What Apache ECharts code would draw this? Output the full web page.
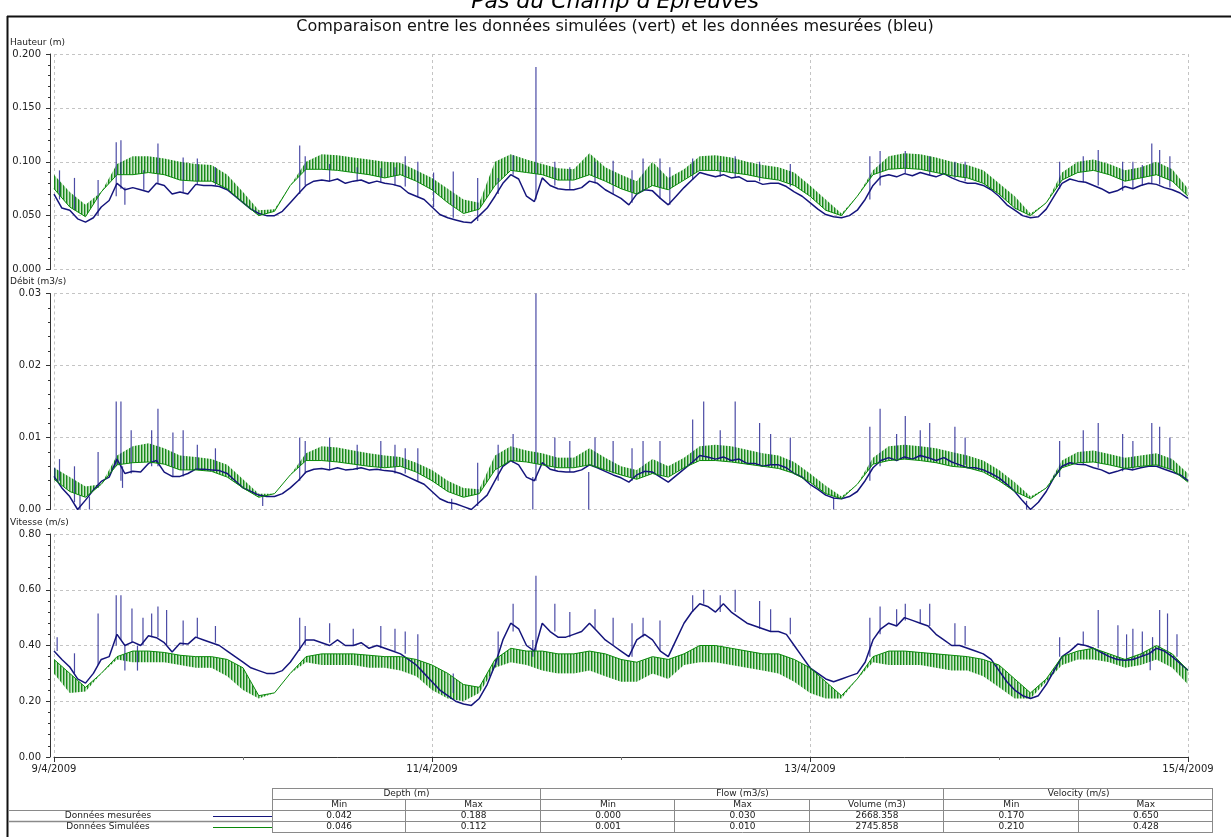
<!DOCTYPE html>
<html>
<head>
<meta charset="utf-8">
<script src="https://cdn.jsdelivr.net/npm/echarts/dist/echarts.min.js"></script>
<style>
  html, body { margin: 0; padding: 0; background: #fff; }
  #chart { width: 1231px; height: 837px; }
</style>
</head>
<body>
<div id="chart"></div>
<script>
// ---------------------------------------------------------------
// Data: hourly measured values from 9/4/2009 00:00 (index = hour),
// simulated envelope every 2 hours, and isolated measured peaks
// given as [hour, from, to].
// ---------------------------------------------------------------
const xTickLabels = ['9/4/2009', '11/4/2009', '13/4/2009', '15/4/2009'];
const SIM_STEP = 2; // hours between simulated samples

// ---- Hauteur (m) ----
const depthMeasured = [
  0.070,0.057,0.055,0.047,0.044,0.048,0.058,0.064,0.080,0.074,0.076,0.074,0.072,0.080,0.078,0.070,0.072,0.070,0.079,0.078,0.078,0.077,0.074,0.068,0.062,
  0.056,0.052,0.050,0.050,0.054,0.062,0.070,0.078,0.082,0.083,0.082,0.084,0.080,0.082,0.083,0.080,0.082,0.080,0.079,0.077,0.071,0.068,0.065,0.058,
  0.051,0.048,0.046,0.044,0.0435,0.050,0.057,0.068,0.080,0.088,0.084,0.068,0.063,0.085,0.078,0.075,0.074,0.074,0.076,0.082,0.080,0.074,0.070,0.066,
  0.060,0.070,0.074,0.073,0.066,0.060,0.068,0.076,0.083,0.090,0.088,0.086,0.088,0.085,0.086,0.082,0.082,0.079,0.080,0.080,0.077,0.072,0.068,0.062,
  0.056,0.051,0.049,0.048,0.050,0.055,0.065,0.078,0.086,0.088,0.086,0.089,0.087,0.090,0.088,0.086,0.089,0.085,0.082,0.080,0.080,0.078,0.074,0.068,
  0.060,0.055,0.050,0.048,0.049,0.056,0.068,0.080,0.084,0.082,0.081,0.078,0.075,0.071,0.073,0.077,0.075,0.078,0.080,0.079,0.076,0.074,0.071,0.066
];
const depthPeaks = [
  [0.7,0.065,0.092],[2.6,0.055,0.085],[5.6,0.050,0.083],[7.9,0.068,0.118],[8.5,0.075,0.120],[9.0,0.060,0.076],
  [11.4,0.074,0.092],[13.2,0.080,0.117],[16.4,0.072,0.104],[18.2,0.079,0.103],[20.5,0.078,0.095],
  [31.2,0.070,0.115],[31.9,0.078,0.105],[35.0,0.082,0.098],[38.5,0.082,0.095],[41.5,0.081,0.094],[43.3,0.078,0.095],
  [44.6,0.077,0.105],[46.2,0.068,0.100],[48.2,0.058,0.090],[50.7,0.048,0.091],[53.8,0.045,0.085],[56.4,0.070,0.085],
  [58.3,0.088,0.106],[61.2,0.065,0.188],[63.6,0.078,0.100],[65.5,0.074,0.095],[68.7,0.080,0.100],[71.0,0.070,0.101],
  [73.4,0.062,0.092],[74.8,0.074,0.103],[76.95,0.066,0.103],[78.2,0.060,0.095],[81.1,0.083,0.103],[84.6,0.086,0.100],
  [86.5,0.085,0.105],[89.6,0.082,0.100],[93.5,0.077,0.098],
  [103.6,0.065,0.105],[104.9,0.078,0.110],[108.1,0.089,0.110],[111.2,0.088,0.105],[114.4,0.085,0.100],[115.7,0.082,0.100],
  [127.7,0.075,0.100],[130.7,0.081,0.105],[132.6,0.078,0.111],[135.7,0.073,0.100],[137.0,0.075,0.100],[138.2,0.078,0.097],
  [139.4,0.080,0.117],[140.4,0.079,0.111],[141.7,0.076,0.105]
];
const depthSimLow = [
  0.075,0.058,0.049,0.072,0.088,0.088,0.090,0.088,0.083,0.082,0.082,0.075,0.062,
  0.050,0.054,0.078,0.093,0.093,0.092,0.090,0.088,0.085,0.088,0.082,0.074,
  0.062,0.052,0.056,0.078,0.092,0.090,0.088,0.083,0.083,0.088,0.082,0.075,
  0.070,0.078,0.074,0.083,0.092,0.092,0.090,0.088,0.085,0.083,0.078,0.068,
  0.055,0.050,0.068,0.088,0.093,0.094,0.093,0.090,0.087,0.085,0.080,0.070,
  0.057,0.050,0.062,0.083,0.090,0.092,0.088,0.082,0.085,0.088,0.082,0.068
];
const depthSimHigh = [
  0.088,0.072,0.060,0.072,0.098,0.105,0.105,0.103,0.100,0.098,0.097,0.088,0.072,
  0.055,0.056,0.078,0.100,0.107,0.106,0.104,0.102,0.100,0.099,0.092,0.085,
  0.075,0.065,0.062,0.100,0.107,0.102,0.098,0.094,0.093,0.108,0.095,0.088,
  0.082,0.100,0.085,0.093,0.105,0.106,0.104,0.100,0.097,0.095,0.090,0.078,
  0.065,0.052,0.068,0.092,0.105,0.108,0.107,0.104,0.100,0.097,0.092,0.080,
  0.068,0.052,0.062,0.090,0.100,0.102,0.098,0.092,0.095,0.100,0.093,0.075
];

// ---- Débit (m3/s) ----
const flowMeasured = [
  0.0046,0.0030,0.0018,0.0000,0.0013,0.0027,0.0039,0.0045,0.0070,0.0050,0.0053,0.0052,0.0064,0.0068,0.0052,0.0046,0.0046,0.0050,0.0056,0.0056,0.0055,0.0054,0.0050,0.0040,0.0030,
  0.0025,0.0020,0.0018,0.0018,0.0022,0.0030,0.0040,0.0052,0.0056,0.0057,0.0055,0.0058,0.0055,0.0056,0.0058,0.0055,0.0056,0.0054,0.0053,0.0050,0.0045,0.0040,0.0035,0.0025,
  0.0015,0.0010,0.0008,0.0004,0.0000,0.0010,0.0020,0.0040,0.0060,0.0068,0.0062,0.0045,0.0040,0.0065,0.0056,0.0053,0.0052,0.0052,0.0055,0.0062,0.0058,0.0053,0.0048,0.0044,
  0.0038,0.0048,0.0053,0.0052,0.0045,0.0038,0.0047,0.0056,0.0065,0.0075,0.0073,0.0070,0.0073,0.0068,0.0070,0.0064,0.0064,0.0060,0.0062,0.0062,0.0058,0.0050,0.0045,0.0035,
  0.0028,0.0020,0.0016,0.0015,0.0018,0.0025,0.0040,0.0058,0.0068,0.0072,0.0068,0.0073,0.0070,0.0075,0.0072,0.0068,0.0072,0.0066,0.0062,0.0058,0.0058,0.0055,0.0050,0.0044,
  0.0035,0.0025,0.0012,0.0000,0.0010,0.0025,0.0045,0.0060,0.0065,0.0063,0.0062,0.0058,0.0055,0.0050,0.0053,0.0057,0.0055,0.0058,0.0060,0.0060,0.0056,0.0052,0.0048,0.0040
];
const flowPeaks = [
  [0.1,0.0045,0.0058],[0.7,0.0040,0.0070],[2.6,0.0010,0.0060],[3.3,0.0000,0.0020],[4.5,0.0000,0.0018],[5.6,0.0030,0.0080],
  [7.9,0.0060,0.0150],[8.5,0.0040,0.0150],[8.7,0.0030,0.0060],[9.8,0.0050,0.0110],[12.4,0.0060,0.0110],[13.2,0.0060,0.0140],
  [15.1,0.0046,0.0107],[16.4,0.0046,0.0110],[18.2,0.0055,0.0090],[20.5,0.0055,0.0085],
  [26.5,0.0005,0.0020],[31.2,0.0040,0.0100],[31.9,0.0050,0.0095],[35.0,0.0055,0.0100],[38.5,0.0055,0.0090],[41.5,0.0055,0.0095],[43.3,0.0050,0.0090],
  [44.6,0.0050,0.0085],[46.2,0.0040,0.0085],[50.5,0.0000,0.0015],[53.8,0.0005,0.0065],[56.4,0.0040,0.0090],[58.3,0.0065,0.0105],
  [60.8,0.0000,0.0045],[61.2,0.0040,0.0300],[63.6,0.0055,0.0100],[65.5,0.0052,0.0095],[67.9,0.0000,0.0052],[68.7,0.0060,0.0100],[71.0,0.0050,0.0095],
  [73.4,0.0040,0.0085],[74.8,0.0050,0.0095],[76.95,0.0045,0.0095],[81.1,0.0065,0.0125],[82.5,0.0075,0.0150],[84.6,0.0070,0.0110],
  [86.5,0.0068,0.0150],[89.6,0.0062,0.0120],[91.0,0.0062,0.0105],[93.5,0.0058,0.0100],
  [99.0,0.0000,0.0016],[103.6,0.0040,0.0115],[104.9,0.0060,0.0140],[107.0,0.0070,0.0105],[108.1,0.0070,0.0130],[110.0,0.0072,0.0110],
  [111.2,0.0072,0.0120],[114.4,0.0066,0.0115],[115.7,0.0062,0.0100],
  [123.5,0.0000,0.0012],[127.7,0.0045,0.0095],[130.7,0.0062,0.0110],[132.6,0.0058,0.0120],[135.7,0.0053,0.0105],[137.0,0.0055,0.0095],
  [139.4,0.0060,0.0120],[140.4,0.0060,0.0115],[141.7,0.0056,0.0100]
];
const flowSimLow = [
  0.0042,0.0025,0.0017,0.0035,0.0062,0.0065,0.0066,0.0063,0.0055,0.0055,0.0053,0.0045,0.0030,
  0.0017,0.0022,0.0048,0.0068,0.0068,0.0066,0.0063,0.0060,0.0058,0.0060,0.0052,0.0040,
  0.0025,0.0017,0.0022,0.0055,0.0068,0.0066,0.0062,0.0058,0.0058,0.0062,0.0055,0.0048,
  0.0042,0.0050,0.0045,0.0058,0.0068,0.0068,0.0066,0.0063,0.0060,0.0057,0.0050,0.0038,
  0.0022,0.0015,0.0035,0.0063,0.0068,0.0070,0.0068,0.0065,0.0060,0.0058,0.0052,0.0040,
  0.0025,0.0015,0.0030,0.0058,0.0065,0.0066,0.0062,0.0057,0.0060,0.0062,0.0055,0.0038
];
const flowSimHigh = [
  0.0058,0.0045,0.0032,0.0035,0.0075,0.0088,0.0092,0.0085,0.0075,0.0073,0.0070,0.0062,0.0042,
  0.0022,0.0022,0.0048,0.0078,0.0088,0.0086,0.0082,0.0078,0.0075,0.0073,0.0065,0.0055,
  0.0040,0.0030,0.0028,0.0075,0.0088,0.0082,0.0078,0.0072,0.0072,0.0085,0.0072,0.0060,
  0.0055,0.0070,0.0060,0.0072,0.0088,0.0090,0.0088,0.0083,0.0078,0.0075,0.0066,0.0050,
  0.0033,0.0018,0.0035,0.0072,0.0088,0.0090,0.0088,0.0085,0.0080,0.0075,0.0068,0.0055,
  0.0038,0.0018,0.0030,0.0068,0.0080,0.0082,0.0077,0.0072,0.0075,0.0078,0.0070,0.0050
];

// ---- Vitesse (m/s) ----
const speedMeasured = [
  0.380,0.350,0.323,0.280,0.265,0.300,0.350,0.360,0.440,0.400,0.413,0.400,0.435,0.428,0.410,0.377,0.408,0.405,0.430,0.420,0.410,0.400,0.380,0.360,0.340,
  0.320,0.310,0.300,0.300,0.310,0.340,0.380,0.420,0.420,0.410,0.400,0.420,0.400,0.400,0.410,0.390,0.400,0.390,0.380,0.370,0.350,0.330,0.300,0.270,
  0.240,0.220,0.200,0.190,0.185,0.210,0.260,0.330,0.420,0.480,0.460,0.400,0.380,0.480,0.450,0.430,0.430,0.440,0.450,0.480,0.450,0.420,0.400,0.380,
  0.360,0.420,0.440,0.420,0.380,0.360,0.420,0.480,0.520,0.550,0.540,0.520,0.550,0.520,0.500,0.480,0.470,0.460,0.450,0.450,0.440,0.400,0.360,0.320,
  0.300,0.280,0.270,0.280,0.290,0.300,0.340,0.420,0.460,0.480,0.470,0.500,0.490,0.480,0.470,0.440,0.420,0.400,0.400,0.390,0.380,0.370,0.350,0.310,
  0.270,0.240,0.220,0.210,0.220,0.260,0.310,0.360,0.380,0.405,0.400,0.390,0.375,0.360,0.350,0.347,0.350,0.360,0.370,0.390,0.380,0.360,0.336,0.311
];
const speedPeaks = [
  [0.4,0.380,0.430],[2.6,0.300,0.372],[5.6,0.330,0.515],[7.9,0.400,0.580],[8.5,0.420,0.580],[9.0,0.310,0.400],[9.9,0.410,0.533],
  [10.6,0.310,0.400],[11.3,0.400,0.500],[12.4,0.430,0.515],[13.2,0.430,0.540],[14.3,0.400,0.527],[16.4,0.400,0.490],[18.2,0.430,0.500],[20.5,0.410,0.470],
  [31.2,0.380,0.500],[31.9,0.400,0.470],[35.0,0.410,0.480],[38.0,0.400,0.460],[41.5,0.390,0.470],[43.3,0.380,0.460],
  [44.6,0.370,0.450],[46.2,0.340,0.440],[50.7,0.230,0.300],[56.4,0.330,0.450],[58.3,0.450,0.550],[60.8,0.360,0.420],[61.2,0.380,0.650],
  [63.6,0.450,0.550],[65.5,0.430,0.520],[68.7,0.460,0.530],[71.0,0.400,0.500],
  [73.4,0.360,0.480],[74.8,0.430,0.500],[76.95,0.380,0.490],[81.1,0.520,0.580],[82.5,0.550,0.600],[84.6,0.520,0.580],[86.5,0.520,0.600],
  [89.6,0.460,0.560],[91.0,0.450,0.530],[93.5,0.440,0.500],
  [103.6,0.360,0.500],[104.9,0.440,0.540],[107.0,0.470,0.530],[108.1,0.490,0.550],[110.0,0.480,0.530],[111.2,0.470,0.550],[114.4,0.400,0.480],[115.7,0.400,0.470],
  [127.7,0.360,0.430],[130.7,0.400,0.450],[132.6,0.390,0.527],[135.1,0.350,0.473],[136.2,0.347,0.440],[137.0,0.350,0.460],[138.2,0.360,0.450],
  [139.2,0.311,0.372],[139.5,0.370,0.430],[140.4,0.390,0.527],[141.4,0.380,0.515],[142.6,0.360,0.440]
];
const speedSimLow = [
  0.300,0.230,0.235,0.300,0.350,0.340,0.340,0.340,0.330,0.320,0.320,0.290,0.240,
  0.210,0.230,0.300,0.340,0.330,0.330,0.330,0.320,0.320,0.310,0.290,0.240,
  0.210,0.200,0.230,0.320,0.340,0.330,0.310,0.300,0.300,0.310,0.290,0.270,
  0.270,0.300,0.280,0.330,0.340,0.340,0.330,0.320,0.310,0.300,0.270,0.230,
  0.210,0.210,0.280,0.340,0.330,0.330,0.330,0.320,0.310,0.310,0.290,0.250,
  0.210,0.210,0.270,0.330,0.350,0.350,0.340,0.320,0.330,0.350,0.320,0.260
];
const speedSimHigh = [
  0.350,0.300,0.250,0.300,0.360,0.380,0.380,0.375,0.365,0.360,0.360,0.350,0.320,
  0.220,0.230,0.300,0.360,0.370,0.370,0.370,0.365,0.360,0.360,0.350,0.330,
  0.300,0.260,0.250,0.350,0.390,0.380,0.380,0.370,0.370,0.380,0.370,0.350,
  0.340,0.360,0.350,0.370,0.400,0.400,0.390,0.380,0.370,0.370,0.350,0.320,
  0.270,0.220,0.280,0.360,0.380,0.380,0.375,0.370,0.365,0.360,0.350,0.330,
  0.280,0.230,0.280,0.360,0.380,0.390,0.370,0.350,0.370,0.400,0.370,0.310
];

// ---- Summary table ----
const tableGroups = [['Depth (m)', 2], ['Flow (m3/s)', 3], ['Velocity (m/s)', 2]];
const tableColumns = ['Min', 'Max', 'Min', 'Max', 'Volume (m3)', 'Min', 'Max'];
const rowNames = ['Données mesurées', 'Données Simulées'];
const measuredStats = ['0.042', '0.188', '0.000', '0.030', '2668.358', '0.170', '0.650'];
const simulatedStats = ['0.046', '0.112', '0.001', '0.010', '2745.858', '0.210', '0.428'];

// ---------------------------------------------------------------
// Layout and styling
// ---------------------------------------------------------------
const FONT = '"DejaVu Sans", Verdana, sans-serif';
const BLUE = '#15157c';
const GREEN = '#0a8a0a';
const PLOT_LEFT = 54, PLOT_WIDTH = 1134;

const panels = [
  { title: 'Hauteur (m)', titleY: 43, top: 54, height: 215.5, max: 0.2, interval: 0.05, digits: 3,
    measured: depthMeasured, peaks: depthPeaks, simLow: depthSimLow, simHigh: depthSimHigh, simLine: 'low' },
  { title: 'Débit (m3/s)', titleY: 282, top: 293.5, height: 216, max: 0.03, interval: 0.01, digits: 2,
    measured: flowMeasured, peaks: flowPeaks, simLow: flowSimLow, simHigh: flowSimHigh, simLine: 'low' },
  { title: 'Vitesse (m/s)', titleY: 523, top: 534, height: 223, max: 0.8, interval: 0.2, digits: 2,
    measured: speedMeasured, peaks: speedPeaks, simLow: speedSimLow, simHigh: speedSimHigh, simLine: 'high' }
];

// vertical comb texture for the rapidly oscillating simulated signal
const comb = document.createElement('canvas');
comb.width = 3; comb.height = 8;
(function () {
  const c = comb.getContext('2d');
  c.fillStyle = 'rgba(0,125,0,0.9)'; c.fillRect(0, 0, 1, 8);
  c.fillStyle = 'rgba(40,150,40,0.6)'; c.fillRect(1, 0, 1, 8);
  c.fillStyle = 'rgba(110,190,110,0.35)'; c.fillRect(2, 0, 1, 8);
})();

const grids = [], xAxes = [], yAxes = [], series = [], graphics = [];

panels.forEach((p, i) => {
  const last = i === panels.length - 1;
  grids.push({ left: PLOT_LEFT, width: PLOT_WIDTH, top: p.top, height: p.height });

  xAxes.push({
    gridIndex: i, type: 'value', min: 0, max: 144, interval: 48,
    axisLine: { show: last, onZero: false, lineStyle: { color: '#333', width: 1 } },
    axisTick: { show: last, length: 5, lineStyle: { color: '#333' } },
    minorTick: { show: last, splitNumber: 2, length: 3, lineStyle: { color: '#777' } },
    axisLabel: { show: last, formatter: v => xTickLabels[Math.round(v / 48)], fontFamily: FONT, fontSize: 10, color: '#222', margin: 7 },
    splitLine: { show: true, lineStyle: { color: '#c4c4c4', width: 1, type: [3, 3] } }
  });

  yAxes.push({
    gridIndex: i, type: 'value', min: 0, max: p.max, interval: p.interval, offset: 4,
    axisLine: { show: true, onZero: false, lineStyle: { color: '#333', width: 1 } },
    axisTick: { show: true, length: 4, lineStyle: { color: '#333' } },
    minorTick: { show: true, splitNumber: 5, length: 2, lineStyle: { color: '#333' } },
    axisLabel: { formatter: v => v.toFixed(p.digits), fontFamily: FONT, fontSize: 10, color: '#222', margin: 9 },
    splitLine: { show: true, lineStyle: { color: '#c4c4c4', width: 1, type: [3, 3] } }
  });

  // simulated envelope: comb-filled band between low and high samples
  series.push({
    type: 'custom', xAxisIndex: i, yAxisIndex: i, silent: true, z: 1,
    encode: { x: 0, y: [1, 2] },
    data: p.simLow.map((v, k) => [k * SIM_STEP, v, p.simHigh[k]]),
    renderItem: (params, api) => {
      const k = params.dataIndex;
      if (k >= p.simLow.length - 1) return null;
      const x0 = k * SIM_STEP, x1 = (k + 1) * SIM_STEP;
      const pts = [
        api.coord([x0, p.simLow[k]]), api.coord([x1, p.simLow[k + 1]]),
        api.coord([x1, p.simHigh[k + 1]]), api.coord([x0, p.simHigh[k]])
      ];
      return { type: 'polygon', shape: { points: pts },
               style: { fill: { image: comb, repeat: 'repeat' }, stroke: null } };
    }
  });

  // measured signal
  series.push({
    type: 'line', xAxisIndex: i, yAxisIndex: i, symbol: 'none', silent: true, z: 3,
    lineStyle: { color: BLUE, width: 1.5 },
    data: p.measured.map((v, k) => [k, v])
  });
  // measured short peaks
  series.push({
    type: 'custom', xAxisIndex: i, yAxisIndex: i, silent: true, z: 3,
    encode: { x: 0, y: [1, 2] },
    data: p.peaks,
    renderItem: (params, api) => {
      const a = api.coord([api.value(0), api.value(1)]);
      const b = api.coord([api.value(0), api.value(2)]);
      return { type: 'line', shape: { x1: a[0], y1: a[1], x2: b[0], y2: b[1] },
               style: { stroke: 'rgba(35,35,145,0.82)', lineWidth: 1.2 } };
    }
  });

  // simulated base line
  const simLine = p.simLine === 'low' ? p.simLow : p.simHigh;
  series.push({
    type: 'line', xAxisIndex: i, yAxisIndex: i, symbol: 'none', silent: true, z: 4,
    lineStyle: { color: GREEN, width: 1 },
    data: simLine.map((v, k) => [k * SIM_STEP, v])
  });

  graphics.push({ type: 'text', style: { text: p.title, x: 10, y: p.titleY, font: '9px ' + FONT, fill: '#222',
    align: 'left', verticalAlign: 'middle', textAlign: 'left', textVerticalAlign: 'middle' } });
});

// ---- titles and frame ----
function txt(text, x, y, font, align, fill) {
  return { type: 'text', silent: true, style: { text, x, y, font, fill: fill || '#222',
    align: align || 'center', verticalAlign: 'middle', textAlign: align || 'center', textVerticalAlign: 'middle' } };
}
function seg(x1, y1, x2, y2, stroke, w) {
  return { type: 'line', silent: true, shape: { x1, y1, x2, y2 }, style: { stroke, lineWidth: w || 1 } };
}

graphics.push(txt("Pas du Champ d'Epreuves", 615, 2, 'italic 22px ' + FONT, 'center', '#000'));
graphics.push(seg(7, 16.5, 1231, 16.5, '#111', 2));
graphics.push(seg(7.5, 16, 7.5, 837, '#111', 2));
graphics.push(txt('Comparaison entre les données simulées (vert) et les données mesurées (bleu)', 615, 27, '16px ' + FONT, 'center', '#111'));

// ---- summary table ----
const T_LEFT = 272, T_RIGHT = 1213;
const colW = (T_RIGHT - T_LEFT) / tableColumns.length;
const rowY = [788.5, 799.5, 810.5, 821.5, 832.5];
const BORDER = '#8a8a8a';
const TFONT = '9px ' + FONT;

for (let r = 0; r < rowY.length; r++) graphics.push(seg(T_LEFT, rowY[r], T_RIGHT, rowY[r], BORDER, 1));
let c0 = 0;
graphics.push(seg(T_LEFT + 0.5, rowY[0], T_LEFT + 0.5, rowY[4], BORDER, 1));
tableGroups.forEach(([label, span]) => {
  const xa = T_LEFT + c0 * colW, xb = T_LEFT + (c0 + span) * colW;
  graphics.push(txt(label, (xa + xb) / 2, (rowY[0] + rowY[1]) / 2, TFONT));
  graphics.push(seg(Math.round(xb) - 0.5, rowY[0], Math.round(xb) - 0.5, rowY[1], BORDER, 1));
  c0 += span;
});
const statRows = [measuredStats, simulatedStats];
tableColumns.forEach((label, c) => {
  const xa = T_LEFT + c * colW, xb = xa + colW;
  graphics.push(seg(Math.round(xb) - 0.5, rowY[1], Math.round(xb) - 0.5, rowY[4], BORDER, 1));
  graphics.push(txt(label, (xa + xb) / 2, (rowY[1] + rowY[2]) / 2, TFONT));
  statRows.forEach((vals, r) => graphics.push(txt(vals[c], (xa + xb) / 2, (rowY[2 + r] + rowY[3 + r]) / 2, TFONT)));
});
graphics.push(seg(8, rowY[2], T_LEFT, rowY[2], BORDER, 1));
graphics.push(seg(8, rowY[3], T_LEFT, rowY[3], BORDER, 1.5));
[BLUE, GREEN].forEach((col, r) => {
  const yc = (rowY[2 + r] + rowY[3 + r]) / 2;
  graphics.push(txt(rowNames[r], 108, yc, TFONT));
  graphics.push(seg(213, yc + 0.5, T_LEFT, yc + 0.5, col, 1.2));
});

const chart = echarts.init(document.getElementById('chart'));
chart.setOption({
  animation: false,
  backgroundColor: '#fff',
  grid: grids,
  xAxis: xAxes,
  yAxis: yAxes,
  series: series,
  graphic: { elements: graphics }
});
</script>
</body>
</html>
